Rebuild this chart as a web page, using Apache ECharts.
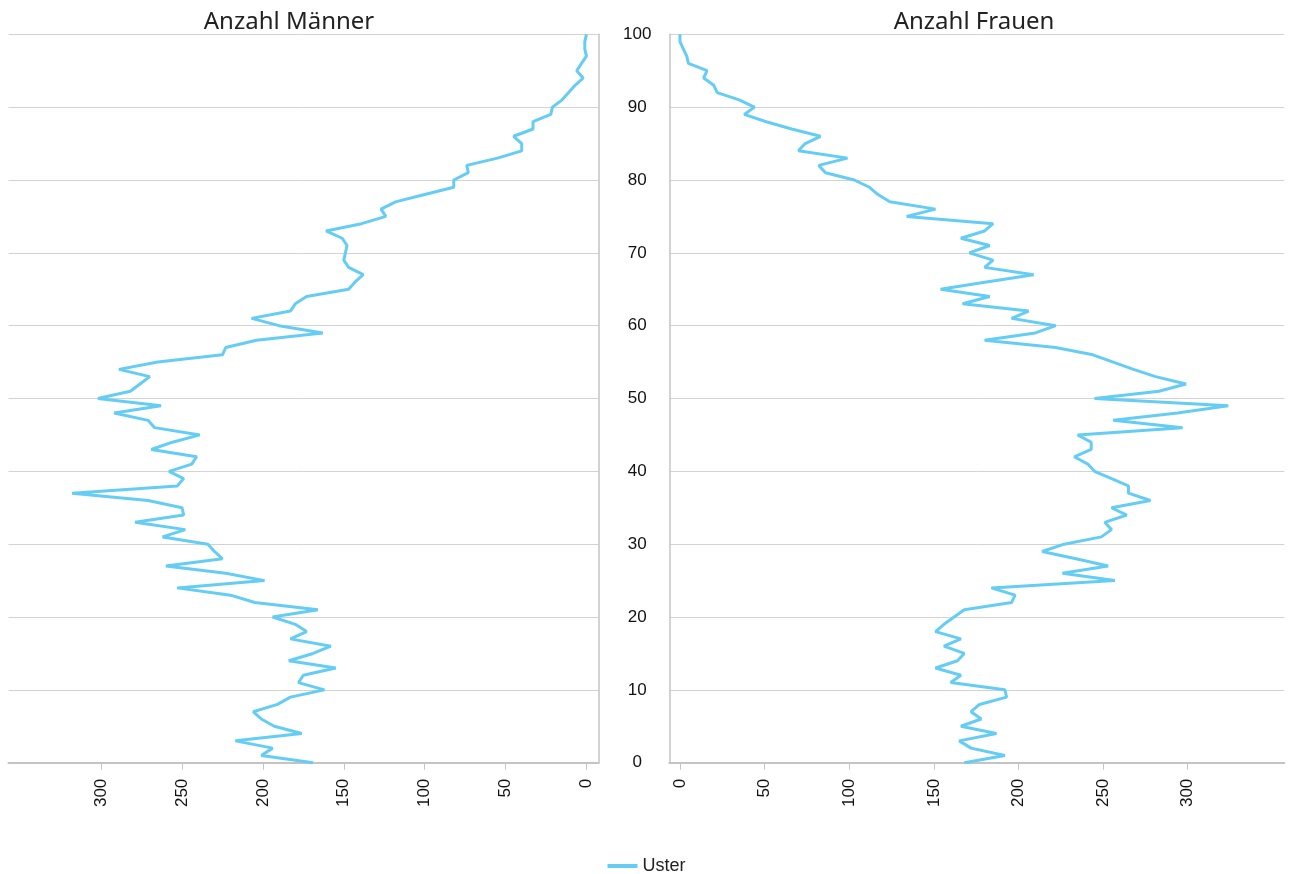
<!DOCTYPE html>
<html>
<head>
<meta charset="utf-8">
<title>Anzahl Männer / Frauen</title>
<script src="https://cdn.jsdelivr.net/npm/echarts@6/dist/echarts.min.js"></script>
<style>
  html, body { margin: 0; padding: 0; background: #fff; }
  #chart { width: 1293px; height: 874px; }
</style>
</head>
<body>
<div id="chart"></div>
<script>
// Alter 0..100
const ages = [
  0, 1, 2, 3, 4, 5, 6, 7, 8, 9, 10, 11, 12, 13, 14, 15, 16, 17, 18, 19,
  20, 21, 22, 23, 24, 25, 26, 27, 28, 29, 30, 31, 32, 33, 34, 35, 36, 37, 38, 39,
  40, 41, 42, 43, 44, 45, 46, 47, 48, 49, 50, 51, 52, 53, 54, 55, 56, 57, 58, 59,
  60, 61, 62, 63, 64, 65, 66, 67, 68, 69, 70, 71, 72, 73, 74, 75, 76, 77, 78, 79,
  80, 81, 82, 83, 84, 85, 86, 87, 88, 89, 90, 91, 92, 93, 94, 95, 96, 97, 98, 99, 100
]
// Anzahl Männer pro Alter (Uster)
const maenner = [
  169, 201, 194, 217, 176, 193, 201, 206, 191, 183,
  162, 178, 175, 155, 184, 169, 158, 183, 173, 180,
  194, 166, 205, 220, 253, 199, 223, 260, 225, 230,
  234, 262, 248, 279, 249, 250, 271, 318, 253, 249,
  258, 244, 241, 269, 256, 239, 267, 271, 292, 263,
  302, 282, 276, 270, 289, 265, 225, 223, 204, 163,
  190, 207, 183, 180, 173, 147, 143, 138, 147, 150,
  149, 148, 151, 161, 139, 124, 127, 118, 100, 82,
  82, 73, 74, 55, 40, 40, 45, 33, 33, 22,
  21, 15, 11, 7, 2, 6, 3, 0, 1, 1, 0
]
// Anzahl Frauen pro Alter (Uster)
const frauen = [
  168, 192, 172, 165, 187, 166, 178, 172, 177, 193,
  192, 160, 166, 151, 164, 168, 156, 166, 151, 156,
  162, 168, 196, 198, 184, 257, 226, 253, 234, 214,
  227, 249, 255, 251, 264, 255, 278, 265, 265, 255,
  245, 241, 233, 243, 243, 235, 297, 256, 294, 324,
  245, 283, 299, 281, 268, 256, 244, 222, 180, 210,
  222, 196, 206, 167, 183, 154, 181, 209, 180, 185,
  171, 183, 166, 180, 185, 134, 151, 124, 117, 112,
  103, 86, 82, 99, 70, 74, 83, 66, 51, 38,
  44, 35, 22, 20, 14, 16, 5, 4, 2, 0, 0
]
const xTicks = [0, 50, 100, 150, 200, 250, 300]
const seriesName = 'Uster'

const chart = echarts.init(document.getElementById('chart'))

const lineColor = '#65cdf4'
const gridColor = '#d3d3d3'
const axisColor = '#c4c4c4'
const labelFont = 'Liberation Sans, Arial, sans-serif'

function xAxisFor (gridIndex, inverse, min, max) {
  return {
    type: 'value',
    gridIndex: gridIndex,
    inverse: inverse,
    min: min,
    max: max,
    axisLine: { show: true, onZero: false, lineStyle: { color: axisColor, width: 2 } },
    axisTick: {
      show: true,
      length: 7,
      customValues: xTicks,
      lineStyle: { color: axisColor, width: 1 }
    },
    axisLabel: {
      customValues: xTicks,
      rotate: 90,
      margin: 16,
      fontSize: 17,
      fontFamily: labelFont,
      color: '#111'
    },
    splitLine: { show: false }
  }
}

function yAxisFor (gridIndex, position, showLabels) {
  return {
    type: 'value',
    gridIndex: gridIndex,
    position: position,
    min: 0,
    max: 100,
    interval: 10,
    axisLine: { show: true, onZero: false, lineStyle: { color: axisColor, width: 1.5 } },
    axisTick: { show: false },
    axisLabel: {
      show: showLabels,
      align: 'center',
      margin: 32,
      fontSize: 17,
      fontFamily: labelFont,
      color: '#111',
      showMinLabel: true,
      showMaxLabel: true
    },
    splitLine: { show: true, lineStyle: { color: gridColor, width: 1 } }
  }
}

const option = {
  animation: false,
  backgroundColor: '#fff',
  title: [
    {
      text: 'Anzahl Männer',
      left: 284,
      top: 5,
      textAlign: 'center',
      textStyle: { fontFamily: 'Noto Sans', fontWeight: 'normal', fontSize: 24, color: '#222' }
    },
    {
      text: 'Anzahl Frauen',
      left: 969,
      top: 5,
      textAlign: 'center',
      textStyle: { fontFamily: 'Noto Sans', fontWeight: 'normal', fontSize: 24, color: '#222' }
    }
  ],
  legend: {
    data: [seriesName],
    left: 'center',
    top: 852,
    icon: 'rect',
    itemWidth: 30,
    itemHeight: 4,
    itemGap: 6,
    textStyle: { fontSize: 18, fontFamily: labelFont, color: '#222' }
  },
  grid: [
    { left: 8.5, top: 34.3, width: 590.2, height: 728.4 },
    { left: 669.3, top: 34.3, width: 615, height: 728.4 }
  ],
  xAxis: [
    xAxisFor(0, true, -7.6, 357.3),
    xAxisFor(1, false, -6.3, 357.1)
  ],
  yAxis: [
    yAxisFor(0, 'right', false),
    yAxisFor(1, 'left', true)
  ],
  series: [
    {
      name: seriesName,
      type: 'line',
      xAxisIndex: 0,
      yAxisIndex: 0,
      showSymbol: false,
      symbol: 'none',
      data: ages.map((a, i) => [maenner[i], a]),
      lineStyle: { color: lineColor, width: 3 },
      itemStyle: { color: lineColor }
    },
    {
      name: seriesName,
      type: 'line',
      xAxisIndex: 1,
      yAxisIndex: 1,
      showSymbol: false,
      symbol: 'none',
      data: ages.map((a, i) => [frauen[i], a]),
      lineStyle: { color: lineColor, width: 3 },
      itemStyle: { color: lineColor }
    }
  ]
}

chart.setOption(option)
</script>
</body>
</html>
